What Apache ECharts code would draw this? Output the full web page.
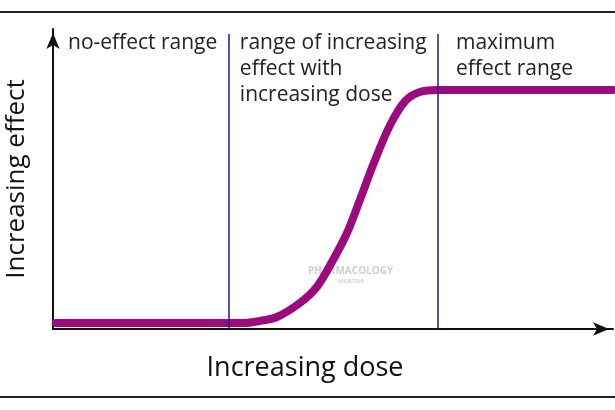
<!DOCTYPE html>
<html>
<head>
<meta charset="utf-8">
<script src="https://cdn.jsdelivr.net/npm/echarts@6/dist/echarts.min.js"></script>
<style>
html,body{margin:0;padding:0;background:#fff;}
#c{width:615px;height:410px;}
</style>
</head>
<body>
<div id="c"></div>
<script>
// Dose-response curve (arbitrary units, dose 0..100, effect 0..100)
const doseValues   = [0.5, 31.4, 33.9, 37, 40, 44.1, 47.1, 50, 52.5, 54.8, 57.5, 60.2, 62.9, 65.5, 68.75, 100];
const effectValues = [2,   2,    2,    2.7, 4, 8.7,  14,   23, 32,   43,   56.3, 68,   76,   79,   79.7,  79.7];
const rangeBounds  = [0, 31.4, 68.75, 100];
const rangeLabels  = ['no-effect range', 'range of increasing\neffect with\nincreasing dose', 'maximum\neffect range'];
const xAxisTitle = 'Increasing dose';
const yAxisTitle = 'Increasing effect';

const FONT = '"Open Sans", "Noto Sans", sans-serif';
const chart = echarts.init(document.getElementById('c'), null, {renderer: 'canvas'});

const labelOffsets = [15, 11, 18];
const areaData = rangeLabels.map((t, i) => [
  {xAxis: rangeBounds[i], yAxis: 0,
   label: {show: true, position: 'insideTopLeft', distance: 0, offset: [labelOffsets[i], 1], formatter: t}},
  {xAxis: rangeBounds[i + 1], yAxis: 100}
]);

chart.setOption({
  animation: false,
  backgroundColor: '#fff',
  grid: {left: 53, right: 2, top: 29, bottom: 81, containLabel: false, outerBoundsMode: 'none'},
  xAxis: {
    type: 'value', min: 0, max: 100,
    name: xAxisTitle, nameLocation: 'middle', nameGap: 26,
    nameTextStyle: {fontFamily: FONT, fontSize: 27, color: '#111', padding: [0, 56, 0, 0]},
    axisLine: {show: true, lineStyle: {color: '#111', width: 2}, symbol: ['none', 'arrow'], symbolSize: [10, 16], symbolOffset: [0, -4]},
    axisTick: {show: false}, axisLabel: {show: false}, splitLine: {show: false}
  },
  yAxis: {
    type: 'value', min: 0, max: 100,
    name: yAxisTitle, nameLocation: 'middle', nameGap: 23, nameRotate: 90,
    nameTextStyle: {fontFamily: FONT, fontSize: 26, color: '#111'},
    axisLine: {show: true, lineStyle: {color: '#111', width: 2}, symbol: ['none', 'arrow'], symbolSize: [10, 16], symbolOffset: [0, -4]},
    axisTick: {show: false}, axisLabel: {show: false}, splitLine: {show: false}
  },
  series: [{
    type: 'line',
    data: doseValues.map((d, i) => [d, effectValues[i]]),
    smooth: 0.35,
    showSymbol: false,
    lineStyle: {color: '#9b0b7e', width: 8, cap: 'round'},
    z: 3,
    markLine: {
      silent: true, symbol: 'none', label: {show: false},
      lineStyle: {color: '#1a1a8c', width: 1.5, type: 'solid'},
      data: [
        [{coord: [rangeBounds[1], 0]}, {coord: [rangeBounds[1], 98.3]}],
        [{coord: [rangeBounds[2], 0]}, {coord: [rangeBounds[2], 98.3]}]
      ]
    },
    markArea: {
      silent: true,
      itemStyle: {color: 'rgba(0,0,0,0)'},
      label: {fontFamily: FONT, fontSize: 21, color: '#222', lineHeight: 26, align: 'left', verticalAlign: 'top'},
      data: areaData
    }
  }],
  graphic: [
    {type: 'line', shape: {x1: 0, y1: 12, x2: 615, y2: 12}, style: {stroke: '#222', lineWidth: 2}},
    {type: 'line', shape: {x1: 0, y1: 397, x2: 615, y2: 397}, style: {stroke: '#222', lineWidth: 2}},
    {type: 'text', left: 308, top: 266, style: {text: 'PHARMACOLOGY', font: 'bold 10px ' + FONT, fill: '#cfcfcf'}},
    {type: 'text', left: 338, top: 278, style: {text: 'MENTOR', font: 'bold 6px ' + FONT, fill: '#d5d5d5'}}
  ]
});
</script>
</body>
</html>
